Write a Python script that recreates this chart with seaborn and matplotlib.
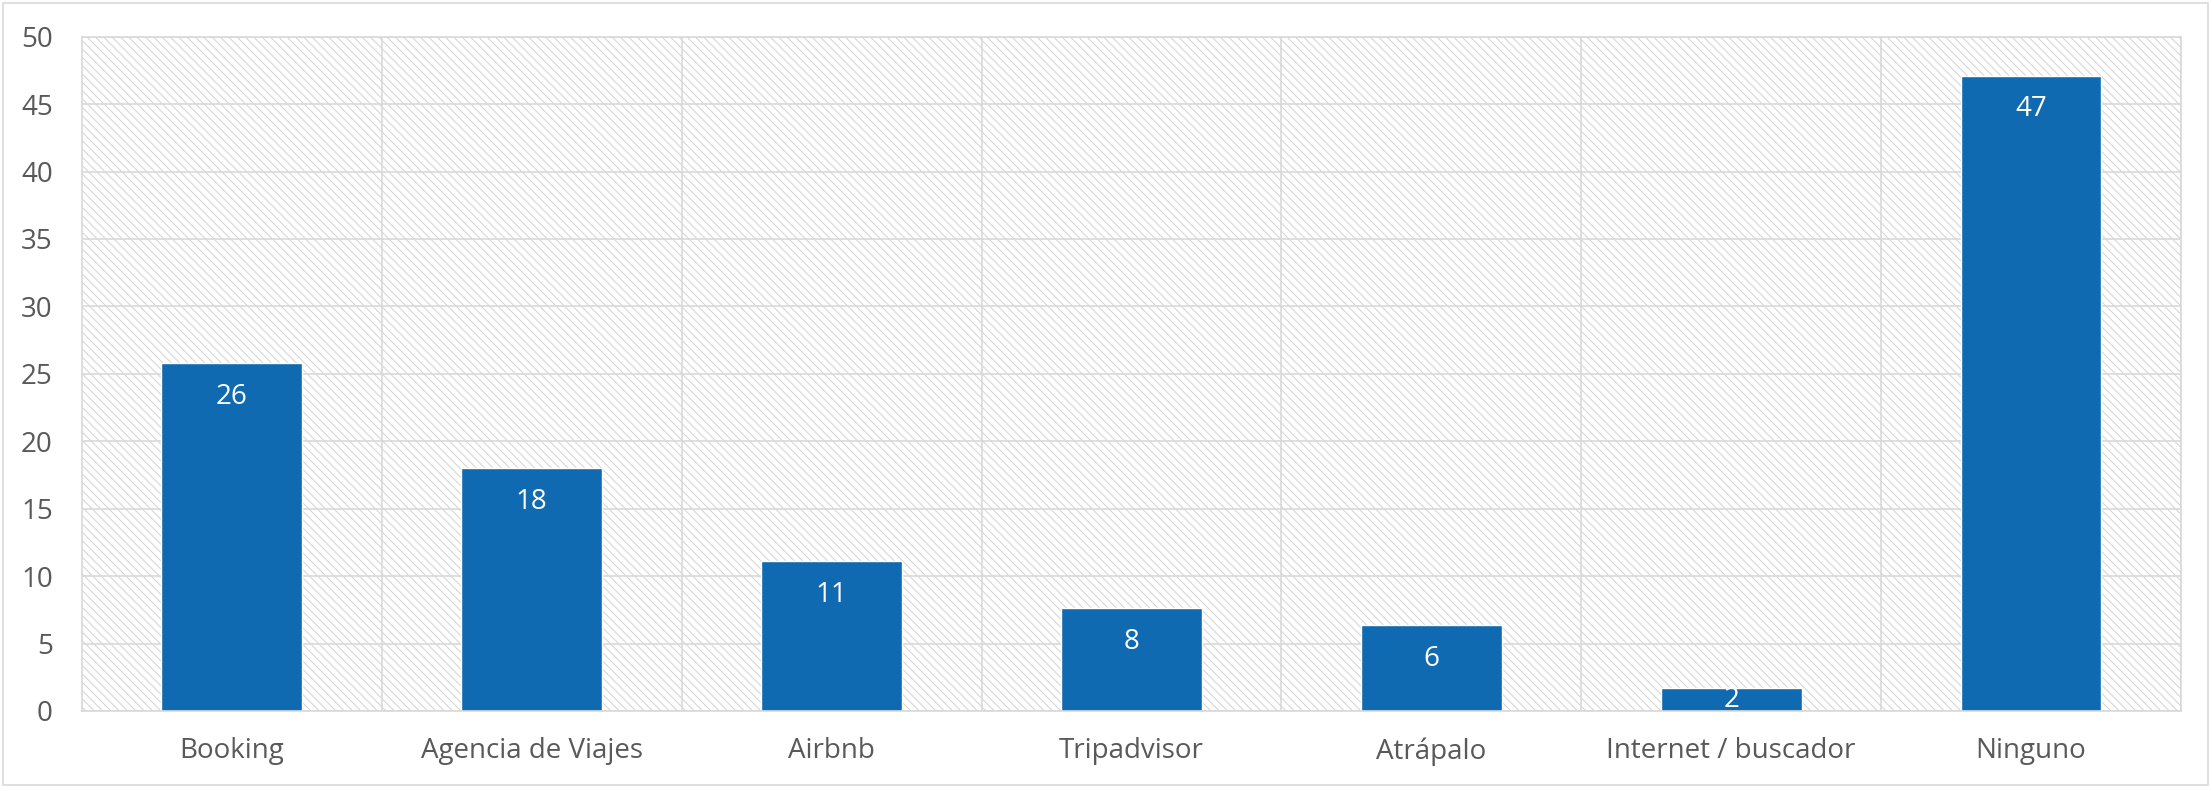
import numpy as np
import pandas as pd
import matplotlib
matplotlib.use("Agg")
import matplotlib.pyplot as plt
from matplotlib.patches import Rectangle
import seaborn as sns

# datos
categorias = ["Booking", "Agencia de Viajes", "Airbnb", "Tripadvisor",
              "Atrápalo", "Internet / buscador", "Ninguno"]
valores = [25.8, 18.0, 11.1, 7.6, 6.35, 1.7, 47.1]
etiquetas = ["26", "18", "11", "8", "6", "2", "47"]
yticks = [0, 5, 10, 15, 20, 25, 30, 35, 40, 45, 50]

sns.set_style("white")
plt.rcParams["font.family"] = ["Open Sans", "DejaVu Sans"]
plt.rcParams["hatch.linewidth"] = 0.7

gris = "#D9D9D9"
texto = "#595959"
azul = "#106AB2"

fig = plt.figure(figsize=(22.11, 7.87), dpi=100)
ax = fig.add_axes([0.0371, 0.0966, 0.9493, 0.8568])

df = pd.DataFrame({"cat": categorias, "val": valores})
sns.barplot(data=df, x="cat", y="val", color=azul, saturation=1,
            width=0.47, ax=ax, zorder=2)

# fondo rayado
ax.add_patch(Rectangle((0, 0), 1, 1, transform=ax.transAxes,
                       facecolor="white", edgecolor="#D2D2D2",
                       hatch="\\\\\\\\", lw=0, zorder=0))

ax.set_ylim(0, 50)
ax.set_xlim(-0.5, len(categorias) - 0.5)
ax.set_yticks(yticks)
ax.set_xticks(np.arange(len(categorias)) + 0.5, minor=True)
ax.set_axisbelow(True)
ax.yaxis.grid(True, color=gris, lw=1.2, zorder=0.5)
ax.xaxis.grid(True, which="minor", color=gris, lw=1.2, zorder=0.5)
ax.xaxis.grid(False, which="major")

ax.tick_params(axis="y", length=0, pad=21, labelsize=20, labelcolor=texto)
ax.tick_params(axis="x", which="major", length=0, pad=19, labelsize=20,
               labelcolor=texto)
ax.tick_params(axis="x", which="minor", length=0)
ax.set_xlabel("")
ax.set_ylabel("")

for s in ax.spines.values():
    s.set_visible(True)
    s.set_color(gris)
    s.set_linewidth(1.2)

# etiquetas de datos (extremo interior)
for i, (v, t) in enumerate(zip(valores, etiquetas)):
    y = v - 2.5
    if y < v / 2:
        y = v / 2
    ax.text(i, y, t, ha="center", va="center", color="white", fontsize=20,
            zorder=3)

# borde exterior
fig.add_artist(Rectangle((0.0015, 0.003), 0.997, 0.993,
                         transform=fig.transFigure, fill=False,
                         edgecolor=gris, lw=1.2))

fig.savefig("out.png", dpi=100)
